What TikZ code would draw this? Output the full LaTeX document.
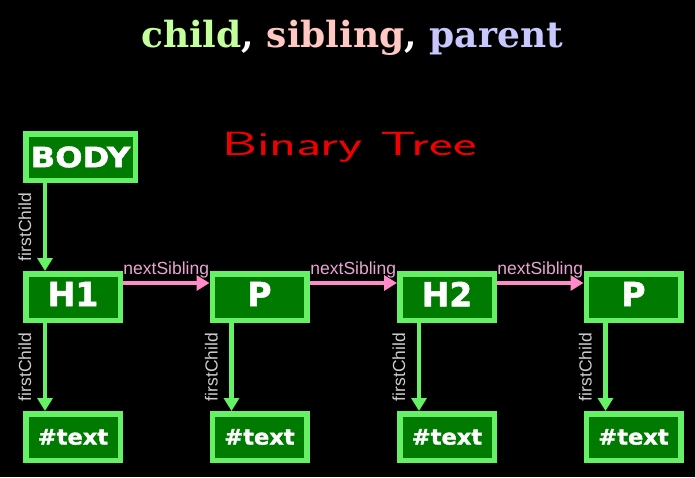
\documentclass[tikz,border=0pt]{standalone}
\usepackage{fontspec}
\setmainfont{DejaVu Serif}
\newfontfamily\boxfont[BoldFeatures={FakeBold=1.5}]{DejaVu Sans}
\newfontfamily\labelfont{Liberation Sans}
\usetikzlibrary{arrows.meta}
\definecolor{edgegreen}{RGB}{102,240,102}
\definecolor{fillgreen}{RGB}{0,122,0}
\definecolor{sibpink}{RGB}{255,140,200}
\definecolor{sibtext}{RGB}{235,165,210}
\definecolor{fctext}{RGB}{205,205,205}
\definecolor{tchild}{RGB}{195,255,155}
\definecolor{tsib}{RGB}{255,200,195}
\definecolor{tpar}{RGB}{200,200,255}
\definecolor{handred}{RGB}{240,0,0}
\newcommand{\hup}[1]{\raisebox{3pt}[\height][\depth]{#1}}
\tikzset{
  domnode/.style={draw=edgegreen, fill=fillgreen, line width=5.5pt, rectangle,
    minimum width=94.5pt, minimum height=46.5pt, inner sep=0pt, text=white,
    font=\boxfont\bfseries\fontsize{33}{33}\selectfont},
  bodynode/.style={domnode, minimum width=109.5pt, font=\boxfont\bfseries\fontsize{28}{28}\selectfont},
  textnode/.style={domnode, font=\boxfont\bfseries\fontsize{21.5}{21.5}\selectfont},
  fcarrow/.style={draw=edgegreen, line width=4.5pt, -{Triangle[length=13pt,width=15pt]}},
  nsarrow/.style={draw=sibpink, line width=4pt, -{Triangle[length=13pt,width=15pt]}},
  fclabel/.style={midway, rotate=90, anchor=base, yshift=14pt, text=fctext,
    font=\labelfont\fontsize{17.5}{17.5}\selectfont, inner sep=0pt},
  nslabel/.style={midway, anchor=base, yshift=9pt, text=sibtext,
    font=\labelfont\fontsize{17.5}{17.5}\selectfont, inner sep=0pt}
}
\begin{document}
\begin{tikzpicture}[x=1pt,y=-1pt]
\fill[black] (0,0) rectangle (695,477);
\useasboundingbox (0,0) rectangle (695,477);

\node[anchor=base] (title) at (352,47) {\fontsize{36}{36}\selectfont\bfseries\color{tchild}child\color{white}, \color{tsib}sibling\color{white}, \color{tpar}parent};

\node[anchor=base west, inner sep=0pt, text=handred] (hand) at (222,155) {\scalebox{1.75}[1.05]{\sffamily\fontsize{32}{32}\selectfont Binary Tree}};

\node[bodynode] (body) at (80.5,157) {\scalebox{1.15}[1]{BODY}};
\node[domnode] (h1) at (73,297) {\hup{H1}};
\node[domnode] (p1) at (259.5,297) {\hup{P}};
\node[domnode] (h2) at (447,297) {\hup{H2}};
\node[domnode] (p2) at (633.5,297) {\hup{P}};

\node[textnode] (t1) at (73,437) {\scalebox{1.05}[1]{\#text}};
\node[textnode] (t2) at (259.5,437) {\scalebox{1.05}[1]{\#text}};
\node[textnode] (t3) at (447,437) {\scalebox{1.05}[1]{\#text}};
\node[textnode] (t4) at (633.5,437) {\scalebox{1.05}[1]{\#text}};

\draw[fcarrow] ([xshift=-28pt]h1.north |- body.south) -- ([xshift=-28pt]h1.north) node[fclabel] {firstChild};
\foreach \a/\b in {h1/t1,p1/t2,h2/t3,p2/t4}{
  \draw[fcarrow] ([xshift=-28pt]\a.south) -- ([xshift=-28pt]\b.north) node[fclabel] {firstChild};
}
\foreach \a/\b in {h1/p1,p1/h2,h2/p2}{
  \draw[nsarrow] ([yshift=14pt]\a.east) -- ([yshift=14pt]\b.west) node[nslabel] {nextSibling};
}
\end{tikzpicture}
\end{document}
